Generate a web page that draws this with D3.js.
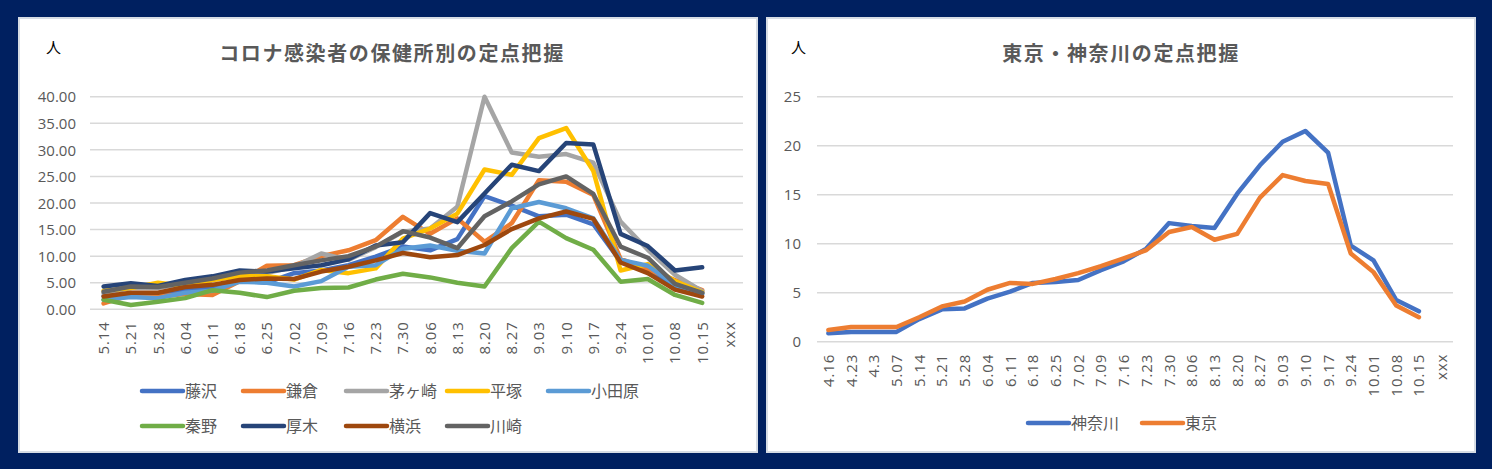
<!DOCTYPE html>
<html><head><meta charset="utf-8">
<script src="https://cdn.jsdelivr.net/npm/d3@7"></script>
<style>
html,body{margin:0;padding:0;background:#002060;}
svg{display:block;}
</style></head>
<body>
<svg id="c" width="1492" height="469"></svg>
<script>
// ---------- data ----------
const leftCategories = ["5.14","5.21","5.28","6.04","6.11","6.18","6.25","7.02","7.09","7.16","7.23","7.30","8.06","8.13","8.20","8.27","9.03","9.10","9.17","9.24","10.01","10.08","10.15","xxx"];
const leftTicks = [0,5,10,15,20,25,30,35,40];
const fujisawa  = [2.5,2.6,2.5,3.5,4.0,5.5,5.0,6.8,7.3,8.3,9.9,11.8,11.1,13.2,21.3,19.5,17.5,17.8,16.0,9.0,7.7,4.3,2.9,null];
const kamakura  = [1.1,2.7,2.4,2.9,2.7,5.3,8.2,8.3,10.0,11.1,13.0,17.4,14.2,17.1,12.7,16.2,24.3,24.0,21.5,9.5,7.5,5.5,3.6,null];
const chigasaki = [3.0,4.0,4.0,4.9,5.5,6.5,6.8,8.0,10.5,9.3,11.7,14.6,15.2,19.3,40.0,29.5,28.7,29.2,27.6,16.5,11.2,6.5,3.4,null];
const hiratsuka = [3.5,4.0,5.0,4.4,5.5,6.2,6.2,5.6,7.4,6.8,7.7,13.3,15.2,18.0,26.3,25.3,32.2,34.1,26.0,7.3,8.5,5.3,3.2,null];
const odawara   = [1.8,2.3,2.1,3.1,3.5,5.2,5.0,4.3,5.3,8.0,8.3,11.4,12.0,11.0,10.5,19.0,20.2,19.0,17.1,9.3,8.2,4.6,3.0,null];
const hadano    = [1.8,0.8,1.4,2.1,3.6,3.1,2.3,3.5,4.0,4.1,5.6,6.7,6.0,5.0,4.3,11.5,16.5,13.4,11.2,5.2,5.7,2.7,1.2,null];
const atsugi    = [4.3,4.9,4.4,5.5,6.2,7.3,7.1,7.7,8.3,9.4,12.0,12.6,18.1,16.4,21.8,27.2,26.0,31.3,31.0,14.2,11.9,7.3,7.9,null];
const yokohama  = [2.4,3.1,3.1,4.2,4.6,5.5,5.8,5.7,7.1,8.0,9.2,10.6,9.8,10.2,12.1,15.1,17.1,18.4,17.0,8.8,6.8,3.7,2.4,null];
const kawasaki  = [3.3,4.3,4.2,5.0,5.8,6.9,7.3,8.3,9.2,10.0,11.8,14.7,13.5,11.5,17.5,20.3,23.5,25.0,21.7,11.8,9.7,4.8,3.1,null];
const leftNames = ["藤沢","鎌倉","茅ヶ崎","平塚","小田原","秦野","厚木","横浜","川崎"];

const rightCategories = ["4.16","4.23","4.3","5.07","5.14","5.21","5.28","6.04","6.11","6.18","6.25","7.02","7.09","7.16","7.23","7.30","8.06","8.13","8.20","8.27","9.03","9.10","9.17","9.24","10.01","10.08","10.15","xxx"];
const rightTicks = [0,5,10,15,20,25];
const kanagawa = [0.85,1.0,1.0,1.0,2.3,3.3,3.4,4.4,5.1,6.0,6.1,6.3,7.3,8.2,9.5,12.1,11.8,11.6,15.1,18.0,20.4,21.5,19.3,9.8,8.3,4.25,3.1,null];
const tokyo    = [1.2,1.5,1.5,1.5,2.5,3.6,4.1,5.3,6.0,5.9,6.4,7.0,7.7,8.5,9.35,11.2,11.7,10.4,11.0,14.7,17.0,16.4,16.1,9.0,7.1,3.7,2.5,null];
const rightNames = ["神奈川","東京"];

// ---------- styles ----------
const leftColors = ["#4472C4","#ED7D31","#A5A5A5","#FFC000","#5B9BD5","#70AD47","#264478","#9E480E","#636363"];
const rightColors = ["#4472C4","#ED7D31"];
const numFont = "'Open Sans', 'Liberation Sans', sans-serif";
const jpFont = "'Noto Sans CJK JP', sans-serif";
const textGray = "#595959";

const svg = d3.select("#c");

function panel(opts){
  const g = svg.append("g");
  g.append("rect").attr("x",opts.px).attr("y",opts.py).attr("width",opts.pw).attr("height",opts.ph)
    .attr("fill","#fff").attr("stroke","#D6DCE4").attr("stroke-width",2);

  const x = d3.scalePoint().domain(opts.categories).range([opts.x0,opts.x1]).padding(0.5);
  const y = d3.scaleLinear().domain([0,opts.ymax]).range([opts.y1,opts.y0]);

  // gridlines
  g.append("g").selectAll("line").data(opts.ticks).join("line")
    .attr("x1",opts.x0).attr("x2",opts.x1)
    .attr("y1",d=>y(d)).attr("y2",d=>y(d))
    .attr("stroke","#D9D9D9").attr("stroke-width",1.5);

  // y axis labels
  const yAxis = d3.axisLeft(y).tickValues(opts.ticks).tickFormat(opts.fmt).tickSize(0).tickPadding(0);
  const ya = g.append("g").attr("transform",`translate(${opts.ylabX},0)`).call(yAxis);
  ya.select(".domain").remove();
  ya.selectAll("text").attr("font-family",numFont).attr("font-size",opts.yfs).attr("fill",textGray).attr("dy","0.35em");

  // x axis labels
  const xAxis = d3.axisBottom(x).tickSize(0).tickPadding(0);
  const xa = g.append("g").attr("transform",`translate(0,${opts.y1})`).call(xAxis);
  xa.select(".domain").remove();
  xa.selectAll("text")
    .attr("font-family",numFont).attr("font-size",15).attr("fill",textGray)
    .attr("text-anchor","end").attr("dy",null).attr("y",0)
    .attr("transform","translate(5,12) rotate(-90)")
    .style("letter-spacing","0.9px");

  // lines
  const line = d3.line().defined(d=>d.v!=null).x(d=>x(d.c)).y(d=>y(d.v));
  opts.series.forEach((s,i)=>{
    const pts = opts.categories.map((c,j)=>({c, v:s[j]}));
    g.append("path").datum(pts).attr("d",line).attr("fill","none")
      .attr("stroke",opts.colors[i]).attr("stroke-width",4.5)
      .attr("stroke-linejoin","round").attr("stroke-linecap","round");
  });

  // title
  g.append("text").attr("x",opts.titleX).attr("y",61).attr("text-anchor","middle")
    .attr("font-family",jpFont).attr("font-weight","bold").attr("font-size",20)
    .attr("fill",textGray).style("letter-spacing","1.6px").text(opts.title);
  // unit
  g.append("text").attr("x",opts.unitX).attr("y",53)
    .attr("font-family",jpFont).attr("font-size",15).attr("fill","#000").text("人");

  // legend
  opts.legend.forEach((it)=>{
    const lg = g.append("g");
    lg.append("line").attr("x1",it.x).attr("x2",it.x+41).attr("y1",it.y).attr("y2",it.y)
      .attr("stroke",opts.colors[it.i]).attr("stroke-width",4.5).attr("stroke-linecap","round");
    lg.append("text").attr("x",it.x+43).attr("y",it.y).attr("dy","0.36em")
      .attr("font-family",jpFont).attr("font-size",16).attr("fill",textGray).text(opts.names[it.i]);
  });
}

const rowXs = [142,243,346,447,548];
const leftLegend = leftNames.map((n,i)=>({i, x: rowXs[i%5], y: i<5 ? 391 : 426}));

panel({
  px:19,py:18,pw:738,ph:434,
  categories:leftCategories, ticks:leftTicks, ymax:40,
  x0:90,x1:743,y0:96.7,y1:309.3, ylabX:76, yfs:15,
  fmt:d3.format(".2f"),
  series:[fujisawa,kamakura,chigasaki,hiratsuka,odawara,hadano,atsugi,yokohama,kawasaki],
  colors:leftColors, names:leftNames,
  title:"コロナ感染者の保健所別の定点把握", titleX:392, unitX:46,
  legend:leftLegend
});

panel({
  px:767,py:18,pw:708,ph:434,
  categories:rightCategories, ticks:rightTicks, ymax:25,
  x0:817,x1:1453,y0:96.7,y1:341.7, ylabX:801, yfs:15,
  fmt:d3.format("d"),
  series:[kanagawa,tokyo],
  colors:rightColors, names:rightNames,
  title:"東京・神奈川の定点把握", titleX:1121, unitX:791,
  legend:[{i:0,x:1028,y:423},{i:1,x:1142,y:423}]
});
</script>
</body></html>
